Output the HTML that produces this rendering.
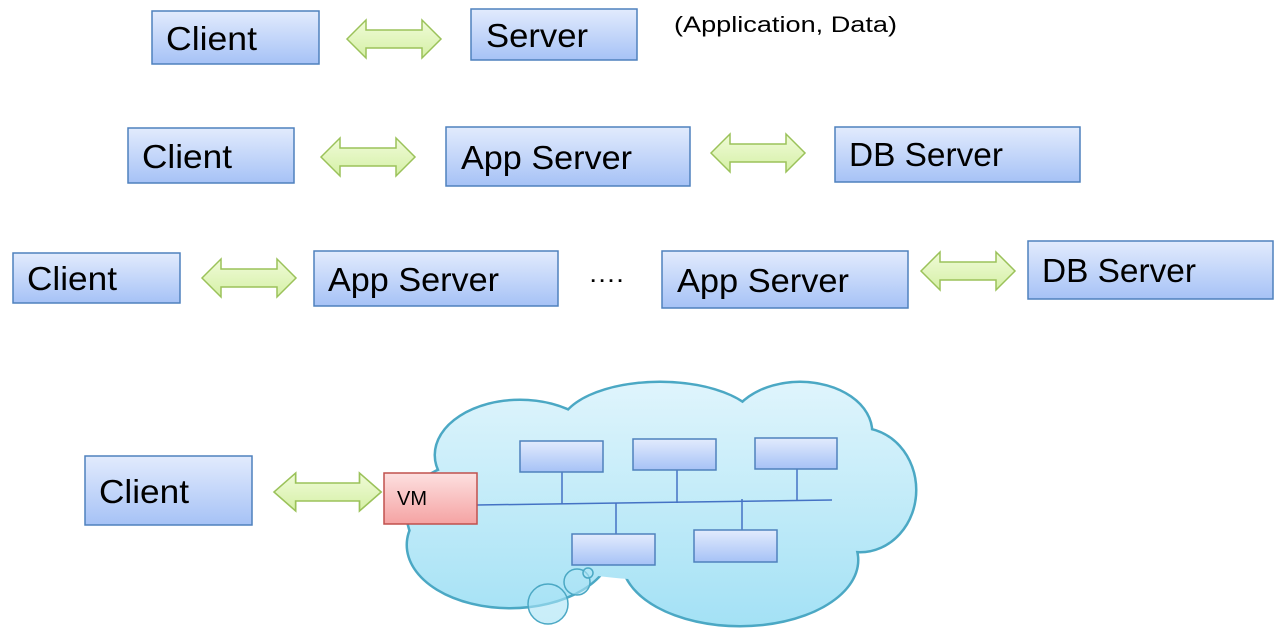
<!DOCTYPE html>
<html><head><meta charset="utf-8"><style>body{margin:0;background:#fff}svg{display:block}</style></head>
<body>
<svg width="1280" height="636" viewBox="0 0 1280 636" xmlns="http://www.w3.org/2000/svg" font-family="Liberation Sans, DejaVu Sans, sans-serif">
<defs>
<linearGradient id="bg" x1="0" y1="0" x2="0" y2="1"><stop offset="0" stop-color="#e2ebfd"/><stop offset="1" stop-color="#a6c2f6"/></linearGradient>
<linearGradient id="rg" x1="0" y1="0" x2="0" y2="1"><stop offset="0" stop-color="#fde0e0"/><stop offset="1" stop-color="#f5a3a3"/></linearGradient>
<linearGradient id="gg" x1="0" y1="0" x2="0" y2="1"><stop offset="0" stop-color="#f0fbd8"/><stop offset="1" stop-color="#d5f0a6"/></linearGradient>
<linearGradient id="cg" gradientUnits="userSpaceOnUse" x1="0" y1="380" x2="0" y2="628"><stop offset="0" stop-color="#e0f5fc"/><stop offset="1" stop-color="#a3e1f5"/></linearGradient>
<path id="ar" d="M0,0 L19,-19 L19,-9 L75,-9 L75,-19 L94,0 L75,19 L75,9 L19,9 L19,19 Z" fill="url(#gg)" stroke="#9bc25a" stroke-width="1.5"/>
</defs>
<g stroke="#4f81bd" stroke-width="1.5" fill="url(#bg)">
<rect x="152" y="11" width="167" height="53"/>
<rect x="471" y="9" width="166" height="51"/>
<rect x="128" y="128" width="166" height="55"/>
<rect x="446" y="127" width="244" height="59"/>
<rect x="835" y="127" width="245" height="55"/>
<rect x="13" y="253" width="167" height="50"/>
<rect x="314" y="251" width="244" height="55"/>
<rect x="662" y="251" width="246" height="57"/>
<rect x="1028" y="241" width="245" height="58"/>
<rect x="85" y="456" width="167" height="69"/>
</g>
<use href="#ar" x="347" y="39"/>
<use href="#ar" x="321" y="157"/>
<use href="#ar" x="711" y="153"/>
<use href="#ar" x="202" y="278"/>
<use href="#ar" x="921" y="271"/>
<g transform="translate(274,492) scale(1.14,1)"><use href="#ar"/></g>
<g font-size="33" fill="#000">
<text x="166" y="50" textLength="91" lengthAdjust="spacingAndGlyphs">Client</text>
<text x="486" y="47" textLength="102" lengthAdjust="spacingAndGlyphs">Server</text>
<text x="142" y="168" textLength="90" lengthAdjust="spacingAndGlyphs">Client</text>
<text x="461" y="169" textLength="171" lengthAdjust="spacingAndGlyphs">App Server</text>
<text x="849" y="166" textLength="154" lengthAdjust="spacingAndGlyphs">DB Server</text>
<text x="27" y="290" textLength="90" lengthAdjust="spacingAndGlyphs">Client</text>
<text x="328" y="291" textLength="171" lengthAdjust="spacingAndGlyphs">App Server</text>
<text x="677" y="292" textLength="172" lengthAdjust="spacingAndGlyphs">App Server</text>
<text x="1042" y="282" textLength="154" lengthAdjust="spacingAndGlyphs">DB Server</text>
<text x="99" y="503" textLength="90" lengthAdjust="spacingAndGlyphs">Client</text>
</g>
<text x="588" y="282" font-size="26" textLength="36" lengthAdjust="spacingAndGlyphs">….</text>
<text x="674" y="32" font-size="22" textLength="223" lengthAdjust="spacingAndGlyphs">(Application, Data)</text>
<!-- cloud -->
<g stroke="#4ba8c4" stroke-width="3" fill="#4ba8c4">
<ellipse cx="520" cy="455" rx="85" ry="55"/>
<ellipse cx="660" cy="428" rx="100" ry="46"/>
<ellipse cx="800" cy="432" rx="72" ry="50"/>
<ellipse cx="860" cy="490" rx="56" ry="62"/>
<ellipse cx="740" cy="560" rx="118" ry="66"/>
<ellipse cx="510" cy="545" rx="103" ry="63"/>
<ellipse cx="462" cy="515" rx="55" ry="50"/>
</g>
<g fill="url(#cg)">
<ellipse cx="520" cy="455" rx="84" ry="54"/>
<ellipse cx="660" cy="428" rx="99" ry="45"/>
<ellipse cx="800" cy="432" rx="71" ry="49"/>
<ellipse cx="860" cy="490" rx="55" ry="61"/>
<ellipse cx="740" cy="560" rx="117" ry="65"/>
<ellipse cx="510" cy="545" rx="102" ry="62"/>
<ellipse cx="462" cy="515" rx="54" ry="49"/>
<ellipse cx="660" cy="500" rx="200" ry="80"/>
</g>
<g fill="url(#cg)" fill-opacity="0.6" stroke="#4ba8c4" stroke-width="1.5">
<circle cx="548" cy="604" r="20"/>
<circle cx="577" cy="582" r="13"/>
<circle cx="588" cy="573" r="5"/>
</g>
<g stroke="#4472c4" stroke-width="1.5" fill="none">
<line x1="477" y1="505" x2="832" y2="500"/>
<line x1="562" y1="472" x2="562" y2="504"/>
<line x1="677" y1="470" x2="677" y2="503"/>
<line x1="797" y1="469" x2="797" y2="501"/>
<line x1="616" y1="503" x2="616" y2="534"/>
<line x1="742" y1="499" x2="742" y2="530"/>
</g>
<g stroke="#4f81bd" stroke-width="1.5" fill="url(#bg)">
<rect x="520" y="441" width="83" height="31"/>
<rect x="633" y="439" width="83" height="31"/>
<rect x="755" y="438" width="82" height="31"/>
<rect x="572" y="534" width="83" height="31"/>
<rect x="694" y="530" width="83" height="32"/>
</g>
<rect x="384" y="473" width="93" height="51" fill="url(#rg)" stroke="#c0504d" stroke-width="1.5"/>
<text x="397" y="505" font-size="20">VM</text>
</svg>
</body></html>
